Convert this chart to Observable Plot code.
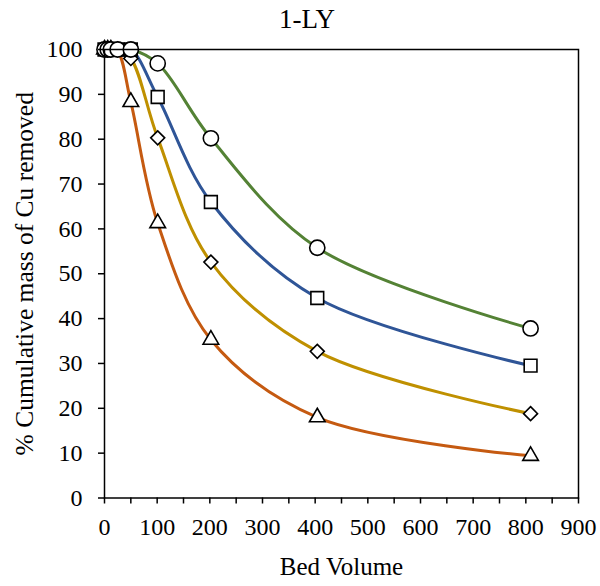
<!DOCTYPE html>
<html><head><meta charset="utf-8">
<script src="https://cdn.jsdelivr.net/npm/d3@7"></script>
<script src="https://cdn.jsdelivr.net/npm/@observablehq/plot@0.6"></script>
<style>
body{margin:0;background:#fff;font-family:"Liberation Serif","Times New Roman",serif;}
#title{position:absolute;left:0;width:614px;top:0;height:38px;text-align:center;font-size:27px;line-height:38px;color:#000;}
#chart{position:absolute;top:36px;left:0;}
</style></head><body>
<div id="title">1-LY</div>
<div id="chart"></div>
<script>
// Data
const bedVolume = [0, 6, 12, 25, 50, 101, 202, 404, 809];
const circleSeries   = [100, 100, 100, 100, 100, 96.9, 80.2, 55.8, 37.8];
const squareSeries   = [100, 100, 100, 100, 100, 89.4, 66.0, 44.6, 29.5];
const diamondSeries  = [100, 100, 100, 100, 98.0, 80.3, 52.6, 32.7, 18.8];
const triangleSeries = [100, 100, 100, 99.6, 88.3, 61.3, 35.3, 18.0, 9.4];
const xTicks = d3.range(0, 901, 50);
const yTicks = d3.range(0, 101, 10);
const xLabel = "Bed Volume";
const yLabel = "% Cumulative mass of Cu removed";

const toRows = ys => bedVolume.map((x, i) => ({x, y: ys[i]}));
const series = [
  {rows: toRows(triangleSeries), color: "#C55A11", symbol: "triangle", r: 5.8},
  {rows: toRows(diamondSeries),  color: "#BF9000", symbol: "diamond2", r: 6.3},
  {rows: toRows(squareSeries),   color: "#2F5597", symbol: "square",   r: 7.2},
  {rows: toRows(circleSeries),   color: "#548235", symbol: "circle",   r: 7.6}
];
const serif = "Liberation Serif, Times New Roman, serif";

const chart = Plot.plot({
  width: 600,
  height: 550,
  marginTop: 13,
  marginLeft: 104,
  marginRight: 22,
  marginBottom: 88.5,
  style: "font-family: 'Liberation Serif', serif; font-size: 24px; color: #000; background: #fff;",
  x: {domain: [0, 900]},
  y: {domain: [0, 100]},
  marks: [
    ...series.map(s => Plot.line(s.rows, {x: "x", y: "y", stroke: s.color, strokeWidth: 3, curve: "catmull-rom", clip: true})),
    ...series.map(s => Plot.dot(s.rows, {x: "x", y: "y", symbol: s.symbol, r: s.r, fill: "white", stroke: "black", strokeWidth: 1.6})),
    Plot.frame({stroke: "black", strokeWidth: 1.5}),
    Plot.axisX({ticks: xTicks, tickSize: 6, tickPadding: 14, tickFormat: d => d % 100 === 0 ? String(d) : "", label: null, strokeWidth: 1.5, fontFamily: serif, fontSize: 24}),
    Plot.axisY({ticks: yTicks, tickSize: 6, tickPadding: 16, label: null, strokeWidth: 1.5, fontFamily: serif, fontSize: 24}),
    Plot.text([xLabel], {text: d => d, frameAnchor: "bottom", lineAnchor: "middle", textAnchor: "middle", dy: 69, fontSize: 25, fontFamily: serif}),
    Plot.text([yLabel], {text: d => d, frameAnchor: "left", textAnchor: "middle", lineAnchor: "middle", dx: -80, rotate: -90, fontSize: 25.5, fontFamily: serif})
  ]
});
document.getElementById("chart").appendChild(chart);
</script>
</body></html>
